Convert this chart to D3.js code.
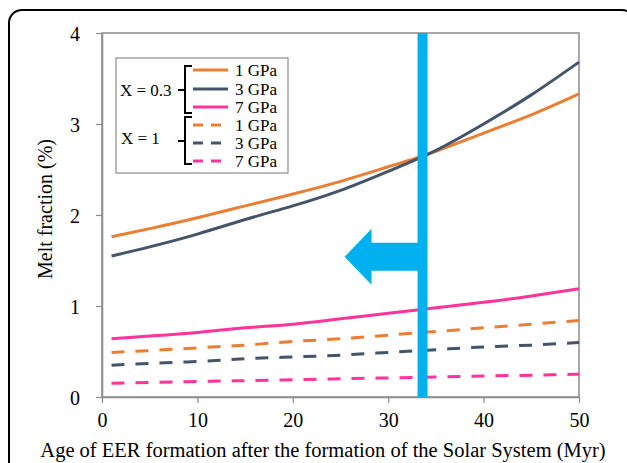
<!DOCTYPE html>
<html><head><meta charset="utf-8">
<script src="https://cdn.jsdelivr.net/npm/d3@7"></script>
<style>body{margin:0;background:#fff}svg{display:block}text{font-family:"Liberation Serif","Times New Roman",serif}</style>
</head><body>
<script>
const ages = [1,5,10,15,20,25,30,35,40,45,50];
const x03_1GPa = [1.76,1.85,1.97,2.10,2.23,2.37,2.53,2.70,2.90,3.10,3.33];
const x03_3GPa = [1.55,1.65,1.79,1.95,2.10,2.27,2.48,2.71,3.00,3.32,3.68];
const x03_7GPa = [0.64,0.67,0.71,0.76,0.80,0.86,0.92,0.98,1.04,1.11,1.19];
const x1_1GPa = [0.49,0.51,0.54,0.57,0.61,0.64,0.68,0.72,0.76,0.80,0.84];
const x1_3GPa = [0.35,0.37,0.39,0.42,0.44,0.46,0.49,0.52,0.55,0.57,0.60];
const x1_7GPa = [0.15,0.16,0.17,0.18,0.19,0.20,0.21,0.22,0.23,0.24,0.25];
const xTicks = [0,10,20,30,40,50];
const yTicks = [0,1,2,3,4];
const limitAge = 33.6;
const seriesLabels = ["1 GPa","3 GPa","7 GPa","1 GPa","3 GPa","7 GPa"];
const groupLabels = ["X = 0.3","X = 1"];

const W=627,H=463;
const svg=d3.select("body").append("svg").attr("width",W).attr("height",H);
svg.append("rect").attr("x",9).attr("y",10).attr("width",626).attr("height",520).attr("rx",13)
  .attr("fill","none").attr("stroke","#000").attr("stroke-width",2);

const L=102,R=579,T=33,B=397;
const x=d3.scaleLinear().domain([0,50]).range([L,R]);
const y=d3.scaleLinear().domain([0,4]).range([B,T]);
const grey="#8c8c8c";

svg.append("rect").attr("x",L).attr("y",T).attr("width",R-L).attr("height",B-T)
  .attr("fill","none").attr("stroke",grey).attr("stroke-width",1.5);

const xa=svg.append("g").attr("transform",`translate(0,${B})`)
  .call(d3.axisBottom(x).tickValues(xTicks).tickFormat(d3.format("d")).tickSize(6).tickPadding(10).tickSizeOuter(0));
const ya=svg.append("g").attr("transform",`translate(${L},0)`)
  .call(d3.axisLeft(y).tickValues(yTicks).tickFormat(d3.format("d")).tickSize(6).tickPadding(16).tickSizeOuter(0));
[xa,ya].forEach(a=>{
  a.select(".domain").attr("stroke",grey).attr("stroke-width",1.5);
  a.selectAll(".tick line").attr("stroke",grey).attr("stroke-width",1.2);
  a.selectAll(".tick text").attr("font-size",20).attr("fill","#000").style("font-family",'"Liberation Serif",serif');
});
ya.selectAll(".tick text").attr("dy","0.38em");

const colors=["#ED7D31","#44546A","#FF3399"];
const series=[
 {v:x03_1GPa,c:colors[0],d:null},
 {v:x03_3GPa,c:colors[1],d:null},
 {v:x03_7GPa,c:colors[2],d:null},
 {v:x1_1GPa,c:colors[0],d:"13 11"},
 {v:x1_3GPa,c:colors[1],d:"13 11"},
 {v:x1_7GPa,c:colors[2],d:"13 11"}
];
const line=d3.line().x((d,i)=>x(ages[i])).y(d=>y(d)).curve(d3.curveNatural);
series.forEach(s=>{
  svg.append("path").attr("d",line(s.v)).attr("fill","none").attr("stroke",s.c)
   .attr("stroke-width",3).attr("stroke-dasharray",s.d);
});

const blue="#00B0F0";
const bx=x(limitAge);
svg.append("line").attr("x1",bx).attr("x2",bx).attr("y1",T).attr("y2",B)
  .attr("stroke",blue).attr("stroke-width",10);
const ay=y(1.54);
svg.append("path").attr("fill",blue).attr("d",
  `M${bx},${ay-14} L${bx-51},${ay-14} L${bx-51},${ay-28} L${bx-78},${ay} L${bx-51},${ay+28} L${bx-51},${ay+14} L${bx},${ay+14} Z`);

const lg=svg.append("g");
lg.append("rect").attr("x",116).attr("y",58).attr("width",172).attr("height",115)
  .attr("fill","#fff").attr("stroke",grey).attr("stroke-width",1.2);
const rowY=[70,89,107,125,143,161];
series.forEach((s,i)=>{
  lg.append("line").attr("x1",193).attr("x2",228).attr("y1",rowY[i]).attr("y2",rowY[i])
    .attr("stroke",s.c).attr("stroke-width",3).attr("stroke-dasharray",s.d?"10 8":null);
  lg.append("text").attr("x",235).attr("y",rowY[i]).attr("dy","0.35em").attr("font-size",17)
    .text(seriesLabels[i]);
});
lg.append("text").attr("x",120).attr("y",90).attr("dy","0.35em").attr("font-size",17).text(groupLabels[0]);
lg.append("text").attr("x",121).attr("y",138).attr("dy","0.35em").attr("font-size",17).text(groupLabels[1]);
function brace(y0,y1,ym){
  lg.append("path").attr("fill","none").attr("stroke","#000").attr("stroke-width",2)
   .attr("d",`M192,${y0} L185,${y0} L185,${y1} L192,${y1} M178,${ym} L185,${ym}`);
}
brace(66,113,90);
brace(117,164,141);

svg.append("text").attr("x",323).attr("y",450).attr("text-anchor","middle").attr("dy","0.35em")
  .attr("font-size",20.5).text("Age of EER formation after the formation of the Solar System (Myr)");
svg.append("text").attr("transform","translate(45,209) rotate(-90)").attr("text-anchor","middle").attr("dy","0.35em")
  .attr("font-size",20).text("Melt fraction (%)");
</script>
</body></html>
